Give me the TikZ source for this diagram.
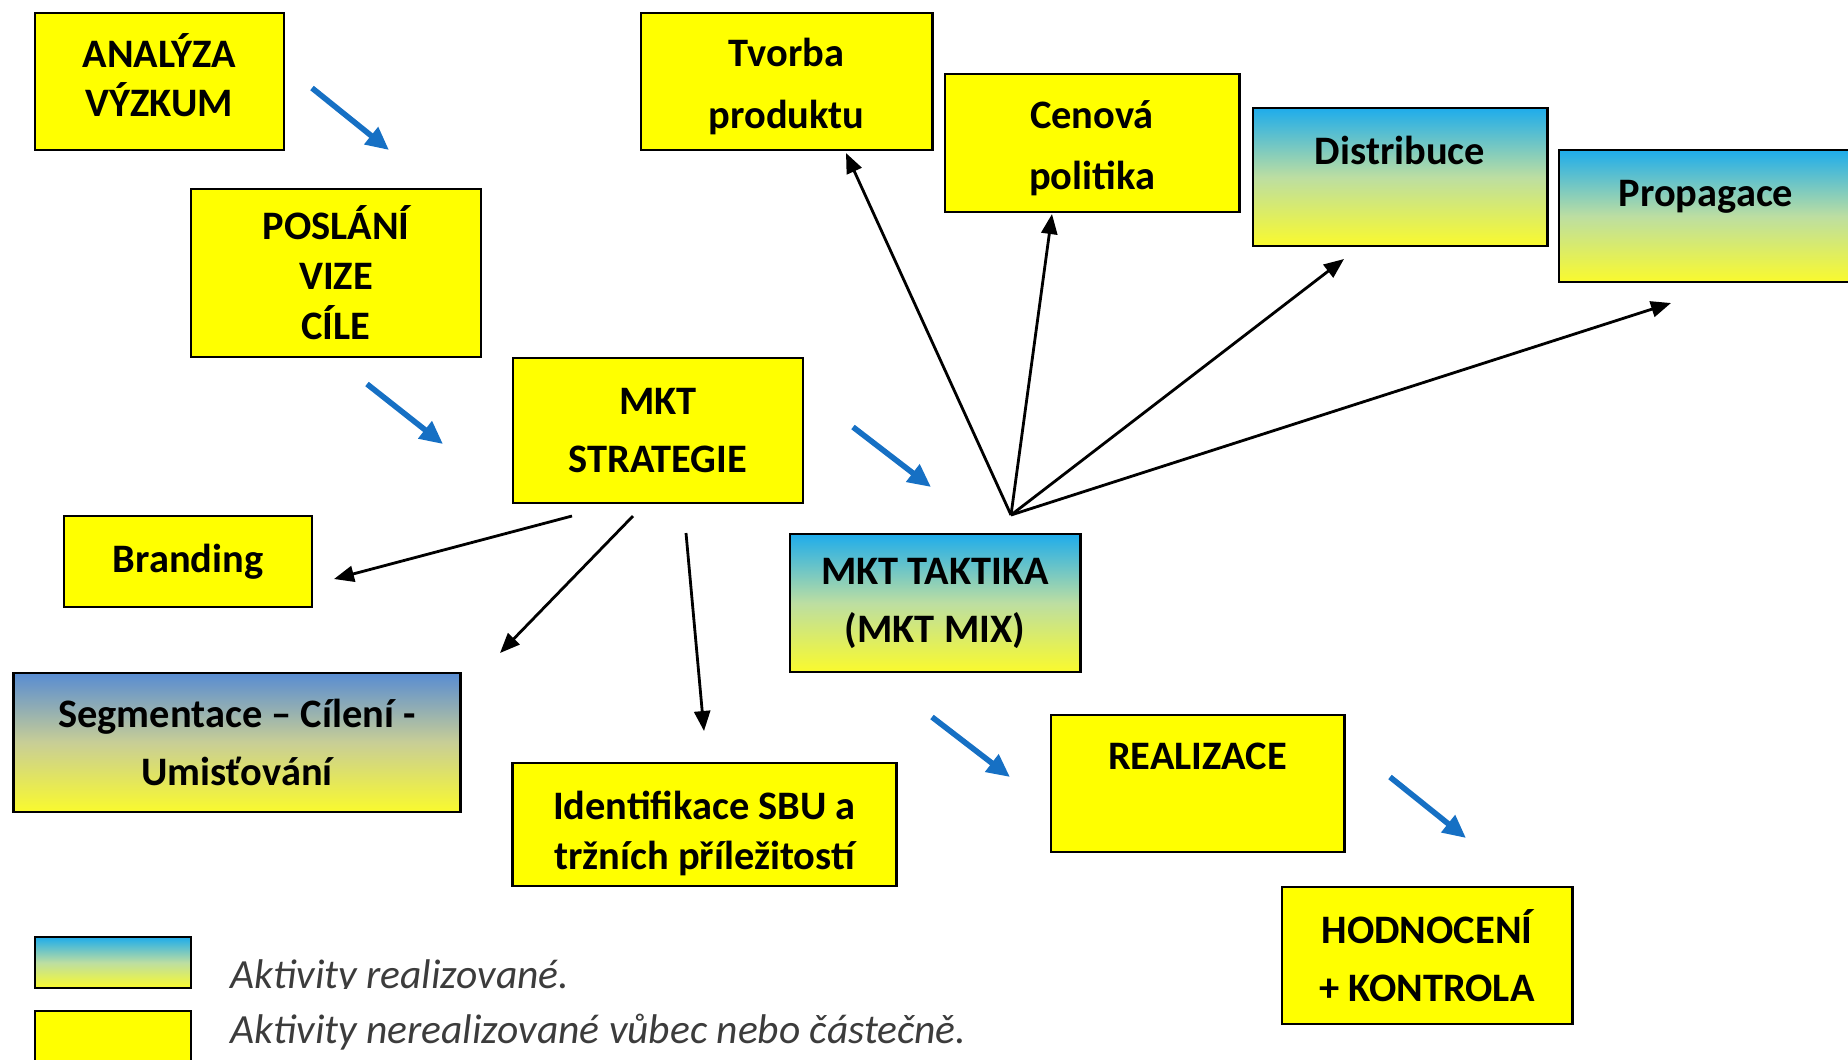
\documentclass[tikz,border=0pt]{standalone}
\usepackage{fontspec}
\setmainfont{Carlito}
\usetikzlibrary{arrows.meta}
\definecolor{boxyellow}{RGB}{255,255,0}
\definecolor{mixblue}{RGB}{30,172,235}
\definecolor{mixmid}{RGB}{188,222,162}
\definecolor{mixyellow}{RGB}{250,250,45}
\definecolor{segblue}{RGB}{88,140,210}
\definecolor{segmid}{RGB}{200,206,150}
\definecolor{arrowblue}{RGB}{22,112,196}
\definecolor{legendgray}{RGB}{60,60,60}
\begin{document}
\begin{tikzpicture}[x=0.01cm, y=-0.01cm,
    box/.style={draw=black, line width=0.8pt, align=center, inner sep=0pt,
        font=\fontsize{11.5}{16.5}\selectfont\bfseries},
    ybox/.style={box, fill=boxyellow},
    gbox/.style={box, top color=mixblue, bottom color=mixyellow, middle color=mixmid},
    sbox/.style={box, top color=segblue, bottom color=mixyellow, middle color=segmid},
    tight/.style={font=\fontsize{11.5}{14.2}\selectfont\bfseries},
    wide/.style={font=\fontsize{11.5}{17.5}\selectfont\bfseries},
    bluearrow/.style={draw=arrowblue, line width=1.6pt, -{Triangle[length=2.3mm, width=2.1mm]}},
    blackarrow/.style={draw=black, line width=0.8pt, -{Triangle[length=2mm, width=1.6mm]}},
    legendtext/.style={anchor=base west, inner sep=0pt, text=legendgray,
        font=\fontsize{11.8}{14}\selectfont\itshape}]
    \useasboundingbox (0,0) rectangle (1848,1059);
    \clip (0,0) rectangle (1848,1059);

    \path (159.5,81.5) node[ybox, tight, minimum width=2.49cm, minimum height=1.37cm] (analyza)     {ANALÝZA\\VÝZKUM\rule[-3.7pt]{0pt}{0pt}};
    \path (336,273)    node[ybox, tight, minimum width=2.90cm, minimum height=1.68cm] (poslani)     {POSLÁNÍ\\VIZE\\CÍLE};
    \path (786.5,81.5) node[ybox, wide, minimum width=2.91cm, minimum height=1.37cm]  (tvorba)      {\rule{0pt}{11pt}Tvorba\\produktu};
    \path (1092,143)   node[ybox, wide, minimum width=2.94cm, minimum height=1.38cm]  (cenova)      {\rule{0pt}{11pt}Cenová\\politika};
    \path (1400,177)   node[gbox, minimum width=2.94cm, minimum height=1.38cm]        (distribuce)  {Distribuce\\[-6pt]\strut};
    \path (1706,216)   node[gbox, minimum width=2.94cm, minimum height=1.32cm]        (propagace)   {Propagace\\[-8.7pt]\strut};
    \path (658,430.5)  node[ybox, minimum width=2.90cm, minimum height=1.45cm]        (strategie)   {MKT\\STRATEGIE};
    \path (188,561.5)  node[ybox, minimum width=2.48cm, minimum height=0.91cm]        (branding)    {Branding};
    \path (237,742.5)  node[sbox, minimum width=4.46cm, minimum height=1.39cm]        (segmentace)  {Segmentace -- Cílení -\\Umisťování};
    \path (935,603)    node[gbox, minimum width=2.90cm, minimum height=1.38cm]        (taktika)     {MKT TAKTIKA\\(MKT MIX)};
    \path (704.5,824.5) node[ybox, tight, minimum width=3.83cm, minimum height=1.23cm] (identifikace) {\rule{0pt}{13pt}Identifikace SBU a\\tržních příležitostí};
    \path (1197.5,783.5) node[ybox, minimum width=2.93cm, minimum height=1.37cm]      (realizace)   {REALIZACE\\[-6pt]\strut};
    \path (1427,955.5) node[ybox, minimum width=2.90cm, minimum height=1.37cm]        (hodnoceni)   {HODNOCENÍ\\+ KONTROLA};

    \path (113,962.5)  node[gbox, minimum width=1.56cm, minimum height=0.51cm] (legreal) {};
    \path (113,1037)   node[ybox, minimum width=1.56cm, minimum height=0.52cm] (legnot)  {};
    \begin{scope}
        \clip (200,900) rectangle (1000,988);
        \path (230,988) node[legendtext] (legrealtext) {Aktivity realizované.};
    \end{scope}
    \path (230,1043) node[legendtext] (legnottext) {Aktivity nerealizované vůbec nebo částečně.};

    \path (312,88)   coordinate (b1s);  \path (389,150)  coordinate (b1e);
    \path (367,384)  coordinate (b2s);  \path (443,444)  coordinate (b2e);
    \path (853,427)  coordinate (b3s);  \path (931,487)  coordinate (b3e);
    \path (932,717)  coordinate (b4s);  \path (1010,777) coordinate (b4e);
    \path (1390,777) coordinate (b5s);  \path (1466,838) coordinate (b5e);

    \draw[bluearrow] (b1s) -- (b1e);
    \draw[bluearrow] (b2s) -- (b2e);
    \draw[bluearrow] (b3s) -- (b3e);
    \draw[bluearrow] (b4s) -- (b4e);
    \draw[bluearrow] (b5s) -- (b5e);

    \path (1011,515) coordinate (hub);
    \path (846,153)  coordinate (tvorbain);
    \path (1052,214) coordinate (cenovain);
    \path (1344,259) coordinate (distribucein);
    \path (1671,303) coordinate (propagacein);

    \draw[blackarrow] (hub) -- (tvorbain);
    \draw[blackarrow] (hub) -- (cenovain);
    \draw[blackarrow] (hub) -- (distribucein);
    \draw[blackarrow] (hub) -- (propagacein);

    \path (572,516) coordinate (s1s);  \path (334,579) coordinate (brandingin);
    \path (633,516) coordinate (s2s);  \path (500,653) coordinate (segmentacein);
    \path (686,533) coordinate (s3s);  \path (704,731) coordinate (identifikacein);

    \draw[blackarrow] (s1s) -- (brandingin);
    \draw[blackarrow] (s2s) -- (segmentacein);
    \draw[blackarrow] (s3s) -- (identifikacein);
\end{tikzpicture}
\end{document}
